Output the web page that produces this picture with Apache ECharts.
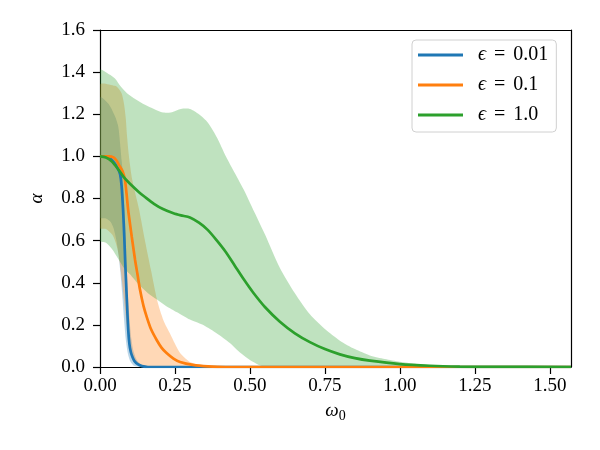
<!DOCTYPE html>
<html>
<head>
<meta charset="utf-8">
<script src="https://cdn.jsdelivr.net/npm/echarts@6/dist/echarts.min.js"></script>
<style>
  html, body { margin: 0; padding: 0; background: #fff; }
  #chart { width: 600px; height: 450px; }
</style>
</head>
<body>
<div id="chart"></div>
<script>
// values, [omega0, alpha]
const X_MAX = Math.PI / 2
const xTicks = [0, 0.25, 0.5, 0.75, 1.0, 1.25, 1.5]

const blueLine = [[0, 1], [0.03, 0.995], [0.05, 0.965], [0.06, 0.94], [0.067, 0.915], [0.072, 0.86],
  [0.077, 0.745], [0.081, 0.617], [0.084, 0.5], [0.087, 0.4], [0.09, 0.3], [0.094, 0.18],
  [0.098, 0.11], [0.103, 0.07], [0.109, 0.045], [0.115, 0.028], [0.127, 0.012], [0.14, 0.004],
  [0.16, 0], [X_MAX, 0]]
const orangeLine = [[0, 1], [0.03, 1], [0.045, 0.995], [0.055, 0.98], [0.065, 0.955], [0.075, 0.93],
  [0.083, 0.89], [0.088, 0.83], [0.094, 0.745], [0.1, 0.68], [0.106, 0.617], [0.117, 0.508],
  [0.125, 0.44], [0.133, 0.37], [0.145, 0.29], [0.156, 0.237], [0.17, 0.18], [0.189, 0.128],
  [0.205, 0.092], [0.222, 0.066], [0.245, 0.04], [0.267, 0.024], [0.31, 0.01], [0.36, 0.003],
  [0.42, 0], [X_MAX, 0]]
const greenLine = [[0, 1], [0.02, 0.995], [0.04, 0.975], [0.06, 0.94], [0.08, 0.9], [0.1, 0.87],
  [0.13, 0.83], [0.15, 0.807], [0.18, 0.775], [0.21, 0.75], [0.245, 0.73], [0.27, 0.72], [0.3, 0.71],
  [0.33, 0.685], [0.36, 0.65], [0.39, 0.6], [0.42, 0.545], [0.45, 0.48], [0.48, 0.415], [0.51, 0.355],
  [0.55, 0.285], [0.6, 0.215], [0.65, 0.16], [0.7, 0.118], [0.75, 0.085], [0.8, 0.06], [0.85, 0.042],
  [0.9, 0.03], [1.0, 0.014], [1.1, 0.006], [1.2, 0.002], [1.3, 0.0005], [X_MAX, 0]]

const blueUpper = [[0, 1.28], [0.028, 1.25], [0.05, 1.19], [0.061, 1.14], [0.067, 1.06], [0.072, 0.98],
  [0.076, 0.92], [0.08, 0.8], [0.085, 0.65], [0.09, 0.45], [0.095, 0.3], [0.1, 0.2], [0.105, 0.13],
  [0.11, 0.085], [0.12, 0.04], [0.13, 0.02], [0.145, 0.006], [0.165, 0], [X_MAX, 0]]
const blueLower = [[0, 0.71], [0.02, 0.705], [0.035, 0.69], [0.045, 0.66], [0.055, 0.6], [0.062, 0.53],
  [0.068, 0.45], [0.074, 0.35], [0.08, 0.23], [0.086, 0.13], [0.092, 0.07], [0.1, 0.03], [0.11, 0.01],
  [0.12, 0.003], [0.13, 0], [X_MAX, 0]]

const orangeUpper = [[0, 1.34], [0.05, 1.335], [0.06, 1.325], [0.072, 1.3], [0.08, 1.25], [0.086, 1.18],
  [0.09, 1.1], [0.095, 1.02], [0.1, 0.96], [0.106, 0.9], [0.115, 0.84], [0.13, 0.75], [0.15, 0.6],
  [0.17, 0.46], [0.19, 0.32], [0.2, 0.27], [0.215, 0.21], [0.233, 0.16], [0.25, 0.11], [0.267, 0.066],
  [0.285, 0.04], [0.3, 0.024], [0.33, 0.01], [0.357, 0.005], [0.4, 0], [X_MAX, 0]]
const orangeLower = [[0, 0.66], [0.02, 0.655], [0.04, 0.63], [0.05, 0.6], [0.06, 0.55], [0.07, 0.45],
  [0.08, 0.32], [0.09, 0.19], [0.1, 0.1], [0.11, 0.045], [0.12, 0.018], [0.14, 0.004], [0.16, 0], [X_MAX, 0]]

const greenUpper = [[0, 1.41], [0.03, 1.39], [0.05, 1.37], [0.07, 1.33], [0.09, 1.3], [0.12, 1.27],
  [0.15, 1.245], [0.18, 1.225], [0.21, 1.208], [0.24, 1.21], [0.27, 1.225], [0.3, 1.225], [0.33, 1.2],
  [0.36, 1.16], [0.39, 1.09], [0.42, 1.0], [0.45, 0.92], [0.48, 0.84], [0.5, 0.78], [0.55, 0.63],
  [0.6, 0.47], [0.65, 0.35], [0.7, 0.25], [0.75, 0.18], [0.8, 0.125], [0.85, 0.085], [0.9, 0.055],
  [0.95, 0.038], [1.0, 0.025], [1.05, 0.015], [1.1, 0.009], [1.15, 0.005], [1.2, 0.003], [1.3, 0.001],
  [1.4, 0], [X_MAX, 0]]
const greenLower = [[0, 0.6], [0.02, 0.59], [0.04, 0.56], [0.06, 0.515], [0.08, 0.47], [0.1, 0.44],
  [0.13, 0.39], [0.16, 0.35], [0.19, 0.32], [0.22, 0.29], [0.257, 0.26], [0.3, 0.225], [0.35, 0.195],
  [0.4, 0.15], [0.433, 0.114], [0.47, 0.065], [0.5, 0.033], [0.53, 0.01], [0.56, 0], [X_MAX, 0]]

const names = ['eps001', 'eps01', 'eps1']
const legendText = { eps001: '{e|ϵ}{o|=}0.01', eps01: '{e|ϵ}{o|=}0.1', eps1: '{e|ϵ}{o|=}1.0' }
const colors = ['#1f77b4', '#ff7f0e', '#2ca02c']

const FONT = "'Liberation Serif', 'DejaVu Serif', serif"

function band(upper, lower, color) {
  return {
    type: 'custom',
    silent: true,
    z: 1,
    data: [[0, 0]],
    renderItem: function (params, api) {
      const cs = params.coordSys
      let pts = upper.map(p => api.coord(p))
      pts = pts.concat(lower.slice().reverse().map(p => api.coord(p)))
      return {
        type: 'polygon',
        shape: {
          points: pts,
          smooth: 0.25,
          smoothConstraint: [[cs.x, cs.y], [cs.x + cs.width, cs.y + cs.height]]
        },
        style: { fill: color, opacity: 0.3 }
      }
    }
  }
}

function line(name, data, color) {
  return {
    name: name,
    type: 'line',
    data: data,
    z: 5,
    symbol: 'none',
    smooth: 0.25,
    color: color,
    lineStyle: { color: color, width: 2.7 }
  }
}

const frameLine = { show: true, onZero: false, lineStyle: { color: '#000', width: 1.2 } }

const chart = echarts.init(document.getElementById('chart'))
chart.setOption({
  animation: false,
  grid: { left: 100, top: 30, right: 29, bottom: 83 },
  legend: {
    orient: 'vertical',
    left: 412, top: 40,
    data: names,
    icon: 'rect',
    itemWidth: 45, itemHeight: 3,
    itemGap: 10,
    padding: [5, 8, 7, 6],
    borderColor: '#d0d0d0', borderWidth: 1, borderRadius: 4,
    backgroundColor: 'rgba(255,255,255,0.8)',
    formatter: n => legendText[n],
    textStyle: {
      fontFamily: FONT, fontSize: 20, color: '#000', lineHeight: 20,
      rich: {
        e: { fontFamily: FONT, fontSize: 20, fontStyle: 'italic', padding: [0, 0, 0, 10] },
        o: { fontFamily: FONT, fontSize: 20, padding: [0, 8, 0, 8] }
      }
    }
  },
  xAxis: [{
    type: 'value',
    min: 0, max: X_MAX,
    name: '{w|ω}{s|0}',
    nameLocation: 'middle',
    nameGap: 34,
    nameTextStyle: {
      rich: {
        w: { fontFamily: FONT, fontSize: 19, fontStyle: 'italic', color: '#000', verticalAlign: 'bottom', padding: [0, 0, 3, 0] },
        s: { fontFamily: FONT, fontSize: 14, color: '#000', verticalAlign: 'bottom' }
      }
    },
    splitLine: { show: false },
    axisLine: frameLine,
    axisTick: { show: true, length: 7, lineStyle: { color: '#000', width: 1.2 }, customValues: xTicks },
    axisLabel: {
      customValues: xTicks, margin: 10,
      fontFamily: FONT, fontSize: 19, color: '#000',
      formatter: v => v.toFixed(2)
    }
  }, {
    type: 'value', position: 'top', min: 0, max: X_MAX,
    axisLine: frameLine, axisTick: { show: false }, axisLabel: { show: false }, splitLine: { show: false }
  }],
  yAxis: [{
    type: 'value',
    min: 0, max: 1.6, interval: 0.2,
    name: 'α',
    nameLocation: 'middle',
    nameGap: 54,
    nameRotate: 90,
    nameTextStyle: { fontFamily: FONT, fontSize: 19, fontStyle: 'italic', color: '#000' },
    splitLine: { show: false },
    axisLine: frameLine,
    axisTick: { show: true, length: 7, lineStyle: { color: '#000', width: 1.2 } },
    axisLabel: {
      margin: 15, fontFamily: FONT, fontSize: 19, color: '#000',
      formatter: v => v.toFixed(1)
    }
  }, {
    type: 'value', position: 'right', min: 0, max: 1.6,
    axisLine: frameLine, axisTick: { show: false }, axisLabel: { show: false }, splitLine: { show: false }
  }],
  series: [
    band(blueUpper, blueLower, colors[0]),
    band(orangeUpper, orangeLower, colors[1]),
    band(greenUpper, greenLower, colors[2]),
    line(names[0], blueLine, colors[0]),
    line(names[1], orangeLine, colors[1]),
    line(names[2], greenLine, colors[2])
  ]
})
</script>
</body>
</html>
